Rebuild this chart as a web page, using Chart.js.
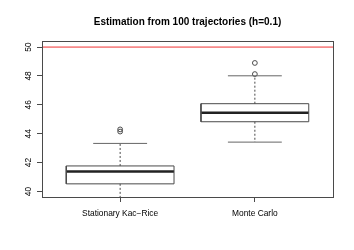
<!DOCTYPE html>
<html>
<head>
<meta charset="utf-8">
<script src="https://cdn.jsdelivr.net/npm/chart.js@4"></script>
<style>
  body { margin: 0; background: #fff; }
  #wrap { width: 354px; height: 250px; }
</style>
</head>
<body>
<div id="wrap"><canvas id="box_chart"></canvas></div>
<script>
// data
const categories = ["Stationary Kac\u2212Rice", "Monte Carlo"];
const lowerWhisker = [39.2, 43.42];
const lowerQuartile = [40.53, 44.83];
const medians = [41.38, 45.46];
const upperQuartile = [41.77, 46.08];
const upperWhisker = [43.33, 48.01];
const outliers = [[44.3, 44.15], [48.13, 48.9]];
const refLevel = 50;
const yTicks = [40, 42, 44, 46, 48, 50];

// axis ranges (R style, 4% extension)
const xMin = 0.42, xMax = 2.58;
const yMin = 39.62, yMax = 50.42;
const boxHalf = 0.4;   // boxwex 0.8
const capHalf = 0.2;

const lineCol = "#4a4a4a";
let datasets = [];

// red reference line
datasets.push({
    data: [{ x: xMin, y: refLevel }, { x: xMax, y: refLevel }],
    borderColor: "#f03030", backgroundColor: "#f03030", borderWidth: 1, pointRadius: 0, showLine: true
});

for (let i = 0; i < categories.length; i++) {
    let c = i + 1;
    // whiskers
    datasets.push({
        data: [{ x: c, y: upperQuartile[i] }, { x: c, y: upperWhisker[i] }],
        borderColor: lineCol, borderWidth: 1, borderDash: [2, 2], pointRadius: 0, showLine: true
    });
    datasets.push({
        data: [{ x: c, y: lowerQuartile[i] }, { x: c, y: lowerWhisker[i] }],
        borderColor: lineCol, borderWidth: 1, borderDash: [2, 2], pointRadius: 0, showLine: true
    });
    // caps
    datasets.push({
        data: [{ x: c - capHalf, y: upperWhisker[i] }, { x: c + capHalf, y: upperWhisker[i] }],
        borderColor: "#666", borderWidth: 1, pointRadius: 0, showLine: true
    });
    datasets.push({
        data: [{ x: c - capHalf, y: lowerWhisker[i] }, { x: c + capHalf, y: lowerWhisker[i] }],
        borderColor: "#666", borderWidth: 1, pointRadius: 0, showLine: true
    });
    // box
    datasets.push({
        data: [
            { x: c - boxHalf, y: lowerQuartile[i] }, { x: c + boxHalf, y: lowerQuartile[i] },
            { x: c + boxHalf, y: upperQuartile[i] }, { x: c - boxHalf, y: upperQuartile[i] },
            { x: c - boxHalf, y: lowerQuartile[i] }
        ],
        borderColor: lineCol, borderWidth: 1, pointRadius: 0, showLine: true,
        fill: false
    });
    // median
    datasets.push({
        data: [{ x: c - boxHalf, y: medians[i] }, { x: c + boxHalf, y: medians[i] }],
        borderColor: "#222", borderWidth: 2.5, pointRadius: 0, showLine: true
    });
    // outliers
    datasets.push({
        data: outliers[i].map(v => ({ x: c, y: v })),
        showLine: false, pointRadius: 2.4, pointBorderWidth: 1,
        pointBorderColor: lineCol, pointBackgroundColor: "rgba(0,0,0,0)"
    });
}

// frame around plot region
const framePlugin = {
    id: "frame",
    afterDraw(chart) {
        let a = chart.chartArea;
        let ctx = chart.ctx;
        ctx.save();
        ctx.strokeStyle = lineCol;
        ctx.lineWidth = 1;
        ctx.strokeRect(Math.round(a.left) + 0.5, Math.round(a.top) + 0.5,
            Math.round(a.right - a.left), Math.round(a.bottom - a.top));
        ctx.restore();
    }
};

new Chart(document.getElementById("box_chart"), {
    type: "scatter",
    data: { datasets: datasets },
    options: {
        responsive: true,
        maintainAspectRatio: false,
        animation: false,
        events: [],
        layout: { padding: { left: 0, right: 21, top: 0, bottom: 0 } },
        plugins: {
            legend: { display: false },
            tooltip: { enabled: false },
            title: {
                display: true,
                fullSize: false,
                text: "Estimation from 100 trajectories (h=0.1)",
                color: "#000",
                font: { family: "Liberation Sans, Arial, sans-serif", size: 10, weight: "bold" },
                padding: { top: 16, bottom: 13 }
            }
        },
        scales: {
            x: {
                type: "linear",
                min: xMin, max: xMax,
                afterBuildTicks: function (scale) {
                    scale.ticks = categories.map((c, i) => ({ value: i + 1 }));
                },
                afterFit: function (scale) { scale.height = 53; },
                ticks: {
                    callback: function (v) { return categories[Math.round(v) - 1]; },
                    color: "#000",
                    font: { family: "Liberation Sans, Arial, sans-serif", size: 8.4 },
                    padding: 7,
                    maxRotation: 0
                },
                grid: { drawOnChartArea: false, drawTicks: true, tickLength: 5, color: lineCol },
                border: { display: true, color: lineCol }
            },
            y: {
                type: "linear",
                min: yMin, max: yMax,
                afterBuildTicks: function (scale) {
                    scale.ticks = yTicks.map(v => ({ value: v }));
                },
                afterFit: function (scale) { scale.width = 42; },
                ticks: {
                    color: "#000",
                    font: { family: "Liberation Sans, Arial, sans-serif", size: 8.4 },
                    minRotation: 90, maxRotation: 90,
                    crossAlign: "center",
                    padding: 4
                },
                grid: { drawOnChartArea: false, drawTicks: true, tickLength: 5, color: lineCol },
                border: { display: true, color: lineCol }
            }
        }
    },
    plugins: [framePlugin]
});
</script>
</body>
</html>
